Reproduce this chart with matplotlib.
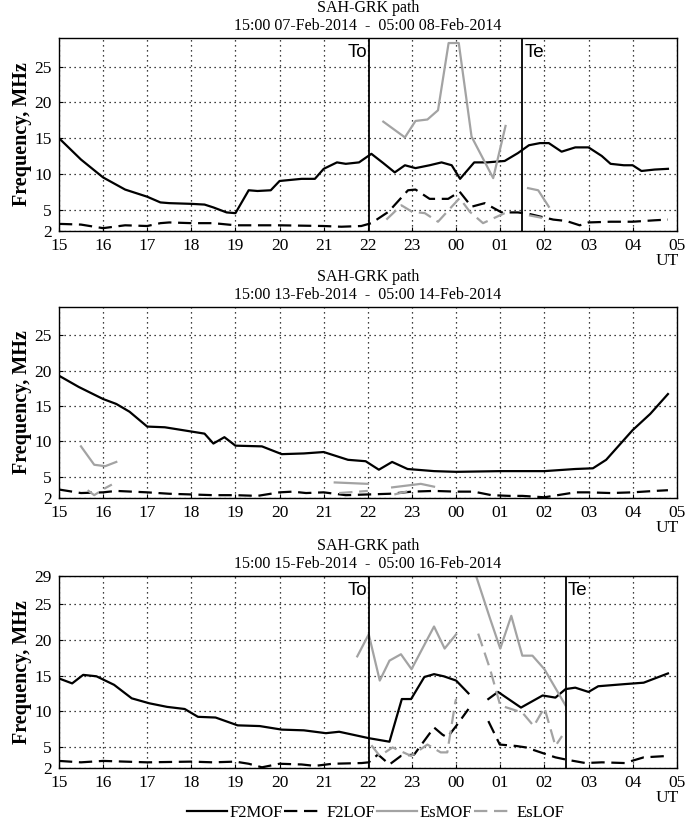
import numpy as np
import matplotlib
matplotlib.use("Agg")
import matplotlib.pyplot as plt

# hours after 00 UT are written as 24+h
hour_labels = ['15', '16', '17', '18', '19', '20', '21', '22', '23',
               '00', '01', '02', '03', '04', '05']
hour_ticks = list(range(15, 30))

titles = ['15:00 07-Feb-2014  -  05:00 08-Feb-2014',
          '15:00 13-Feb-2014  -  05:00 14-Feb-2014',
          '15:00 15-Feb-2014  -  05:00 16-Feb-2014']

# ---- panel 1 : 07/08 Feb ----
p1_f2mof_t = [15.0, 15.5, 16.0, 16.5, 17.0, 17.3, 17.5, 18.0, 18.3, 18.5, 18.8, 19.0, 19.3, 19.5,
              19.8, 20.0, 20.5, 20.8, 21.0, 21.3, 21.5, 21.8, 22.08, 22.35, 22.61, 22.84, 23.08,
              23.4, 23.67, 23.9, 24.09, 24.41, 24.7, 25.1, 25.4, 25.65, 25.9, 26.1, 26.39, 26.7,
              27.0, 27.3, 27.5, 27.8, 28.0, 28.2, 28.5, 28.8]
p1_f2mof = [15.0, 12.0, 9.5, 7.8, 6.8, 6.0, 5.9, 5.8, 5.7, 5.3, 4.6, 4.5, 7.7, 7.6,
            7.7, 9.0, 9.3, 9.3, 10.7, 11.6, 11.4, 11.6, 12.8, 11.5, 10.2, 11.2, 10.8,
            11.2, 11.6, 11.2, 9.3, 11.6, 11.6, 11.8, 12.9, 14.0, 14.3, 14.3, 13.1, 13.7,
            13.7, 12.5, 11.4, 11.2, 11.2, 10.4, 10.6, 10.7]
p1_f2lof_t = [15.0, 15.5, 16.0, 16.5, 17.0, 17.3, 17.5, 18.0, 18.5, 19.0, 19.5, 20.0, 21.0,
              21.4, 21.85, 22.08, 22.47, 22.91, 23.08, 23.4, 23.82, 24.08, 24.35, 24.65,
              25.03, 25.4, 25.65, 26.2, 26.5, 26.8, 27.0, 27.5, 28.0, 28.5, 28.8]
p1_f2lof = [3.0, 2.9, 2.4, 2.8, 2.7, 3.1, 3.2, 3.1, 3.1, 2.8, 2.8, 2.8, 2.7,
            2.6, 2.7, 3.1, 4.7, 7.7, 7.8, 6.5, 6.5, 7.5, 5.4, 5.9,
            4.6, 4.6, 4.4, 3.6, 3.4, 2.8, 3.2, 3.3, 3.3, 3.5, 3.6]
p1_esmof_t = [[22.35, 22.84, 23.08, 23.35, 23.59, 23.83, 24.06, 24.35, 24.84, 25.12],
              [25.63, 25.86, 26.1]]
p1_esmof = [[17.3, 15.1, 17.4, 17.6, 18.9, 28.3, 28.3, 15.2, 9.4, 16.7],
            [8.0, 7.7, 5.4]]
p1_eslof_t = [[22.42, 22.76, 23.0, 23.29, 23.59, 23.9, 24.08, 24.31, 24.61, 25.1],
              [25.65, 25.9, 26.1]]
p1_eslof = [[3.6, 5.6, 4.7, 4.5, 3.3, 5.4, 6.6, 4.7, 3.1, 4.5],
            [4.2, 3.9, 3.6]]

# ---- panel 2 : 13/14 Feb ----
p2_f2mof_t = [15.0, 15.45, 16.0, 16.3, 16.6, 17.0, 17.4, 18.0, 18.3, 18.5, 18.75, 19.0, 19.6,
              20.05, 20.55, 21.0, 21.55, 21.95, 22.25, 22.55, 22.9, 23.5, 24.0, 25.0, 26.0,
              26.7, 27.1, 27.4, 28.0, 28.4, 28.8]
p2_f2mof = [19.3, 17.7, 16.0, 15.3, 14.2, 12.1, 12.0, 11.4, 11.1, 9.7, 10.6, 9.4, 9.3,
            8.2, 8.3, 8.5, 7.4, 7.2, 6.0, 7.1, 6.1, 5.8, 5.7, 5.8, 5.8,
            6.1, 6.2, 7.4, 11.6, 13.9, 16.7]
p2_f2lof_t = [15.0, 15.5, 16.0, 16.3, 17.0, 17.5, 18.0, 18.5, 19.0, 19.5, 20.0, 20.3, 20.6,
              21.0, 21.5, 22.0, 22.5, 23.0, 23.5, 24.0, 24.4, 24.8, 25.2, 25.5, 26.0, 26.3,
              26.7, 27.0, 27.5, 28.0, 28.5, 28.8]
p2_f2lof = [3.2, 2.7, 2.8, 3.0, 2.8, 2.6, 2.5, 2.4, 2.4, 2.3, 2.8, 2.9, 2.7,
            2.8, 2.4, 2.5, 2.6, 2.9, 3.0, 2.9, 2.9, 2.4, 2.3, 2.3, 2.1, 2.4,
            2.8, 2.8, 2.7, 2.8, 3.0, 3.1]
p2_esmof_t = [[15.5, 15.8, 16.05, 16.3], [21.25, 22.0], [22.55, 23.2, 23.5]]
p2_esmof = [[9.3, 6.7, 6.5, 7.1], [4.2, 4.0], [3.5, 4.0, 3.6]]
p2_eslof_t = [[15.65, 15.8, 16.05, 16.2], [21.35, 22.0], [22.6, 23.0]]
p2_eslof = [[3.1, 2.4, 3.4, 3.9], [2.7, 3.0], [2.5, 3.1]]

# ---- panel 3 : 15/16 Feb ----
p3_f2mof_t = [[15.0, 15.3, 15.55, 15.85, 16.25, 16.65, 17.05, 17.45, 17.85, 18.15, 18.55, 19.05,
               19.55, 20.05, 20.55, 21.05, 21.35, 21.65, 22.02, 22.49, 22.77, 22.98, 23.28, 23.5,
               23.72, 24.0, 24.28],
              [24.73, 24.95, 25.47, 25.96, 26.25, 26.48, 26.7, 27.0, 27.22, 27.82, 28.25, 28.8]]
p3_f2mof = [[14.6, 13.9, 15.1, 14.9, 13.7, 11.8, 11.1, 10.6, 10.3, 9.2, 9.1, 8.0,
             7.9, 7.4, 7.3, 6.9, 7.1, 6.7, 6.2, 5.7, 11.7, 11.7, 14.8, 15.2,
             14.9, 14.3, 12.5],
            [11.7, 12.7, 10.5, 12.2, 11.9, 13.1, 13.3, 12.7, 13.5, 13.8, 14.0, 15.3]]
p3_f2lof_t = [[15.0, 15.5, 16.0, 17.0, 18.0, 18.5, 19.0, 19.3, 19.6, 20.0, 20.5, 20.8, 21.2,
               21.86, 22.02, 22.23, 22.49, 22.75, 23.05, 23.5, 23.69, 23.8, 24.0, 24.28],
              [24.73, 24.99, 25.36, 25.58, 26.25, 26.48, 26.93, 27.3, 27.82, 28.25, 28.8]]
p3_f2lof = [[3.0, 2.8, 3.0, 2.8, 2.9, 2.8, 2.9, 2.6, 2.1, 2.6, 2.5, 2.3, 2.6,
             2.7, 2.8, 3.9, 2.5, 3.7, 3.9, 7.7, 6.7, 6.3, 7.9, 10.3],
            [8.6, 5.3, 5.1, 4.9, 3.5, 3.2, 2.7, 2.8, 2.7, 3.5, 3.7]]
p3_esmof_t = [[21.76, 22.02, 22.27, 22.49, 22.75, 22.99, 23.5, 23.74, 24.0],
              [24.4, 24.77, 25.0, 25.25, 25.5, 25.73, 26.0, 26.48]]
p3_esmof = [[17.7, 20.8, 14.3, 17.1, 18.0, 15.9, 21.9, 18.8, 20.8],
            [30.0, 23.0, 18.8, 23.4, 17.8, 17.8, 15.9, 10.8]]
p3_eslof_t = [[22.08, 22.27, 22.56, 22.98, 23.35, 23.65, 23.8, 23.98, 24.0],
              [24.5, 24.77, 25.0, 25.5, 25.76, 26.0, 26.25, 26.4]]
p3_eslof = [[5.2, 3.7, 4.9, 3.7, 5.3, 4.2, 4.2, 11.2, 11.7],
            [20.9, 15.9, 10.8, 9.8, 7.9, 10.5, 5.1, 6.5]]

markers = [(22.02, 25.5), None, (22.02, 26.48)]

BLACK = 'black'
GRAY = '#a3a3a3'
SERIF = 'Liberation Serif'

fig = plt.figure(figsize=(6.85, 8.23), dpi=100)
rects = [[0.086, 0.7193, 0.902, 0.2345],
         [0.086, 0.3949, 0.902, 0.2320],
         [0.086, 0.0668, 0.902, 0.2333]]


def as_segments(t, v):
    if np.ndim(t[0]) == 0:
        return [(t, v)]
    return list(zip(t, v))


panels = [
    (p1_f2mof_t, p1_f2mof, p1_f2lof_t, p1_f2lof, p1_esmof_t, p1_esmof, p1_eslof_t, p1_eslof),
    (p2_f2mof_t, p2_f2mof, p2_f2lof_t, p2_f2lof, p2_esmof_t, p2_esmof, p2_eslof_t, p2_eslof),
    (p3_f2mof_t, p3_f2mof, p3_f2lof_t, p3_f2lof, p3_esmof_t, p3_esmof, p3_eslof_t, p3_eslof),
]

handles = None
for i, (rect, data) in enumerate(zip(rects, panels)):
    ax = fig.add_axes(rect)
    f2m_t, f2m, f2l_t, f2l, esm_t, esm, esl_t, esl = data

    h = {}
    for t, v in as_segments(f2m_t, f2m):
        h['F2MOF'], = ax.plot(t, v, color=BLACK, lw=1.6, ls='-')
    for t, v in as_segments(f2l_t, f2l):
        h['F2LOF'], = ax.plot(t, v, color=BLACK, lw=1.6, ls=(0, (6, 3)))
    for t, v in as_segments(esm_t, esm):
        h['EsMOF'], = ax.plot(t, v, color=GRAY, lw=1.6, ls='-')
    for t, v in as_segments(esl_t, esl):
        h['EsLOF'], = ax.plot(t, v, color=GRAY, lw=1.6, ls=(0, (6, 3)))
    handles = h

    if markers[i] is not None:
        for x in markers[i]:
            ax.axvline(x, color=BLACK, lw=1.3)
        ax.text(markers[i][0] - 0.04, 27.0, 'To', ha='right', va='center',
                fontsize=13.5, family='Liberation Sans')
        ax.text(markers[i][1] + 0.05, 27.0, 'Te', ha='left', va='center',
                fontsize=13.5, family='Liberation Sans')

    ax.set_xlim(15, 29)
    ax.set_ylim(2, 29)
    ax.set_xticks(hour_ticks)
    ax.set_xticklabels(hour_labels)
    yt = [2, 5, 10, 15, 20, 25] + ([29] if i == 2 else [])
    ax.set_yticks(yt)
    ax.set_yticklabels([str(v) for v in yt])
    ax.grid(True, color='black', ls=(0, (1, 3)), lw=0.9)
    ax.tick_params(direction='in', length=3, labelsize=12.5, pad=5)
    for lab in ax.get_xticklabels() + ax.get_yticklabels():
        lab.set_family(SERIF)
    for sp in ax.spines.values():
        sp.set_linewidth(1.0)

    ax.set_ylabel('Frequency, MHz', fontsize=14.5, fontweight='bold', family=SERIF, labelpad=2)
    ax.set_title('SAH-GRK path\n' + titles[i], fontsize=11.5, family=SERIF, pad=6,
                 linespacing=1.15)
    ax.text(0.985, -0.155, 'UT', transform=ax.transAxes, ha='center', va='center',
            fontsize=12.5, family=SERIF)

fig.legend([handles[k] for k in ['F2MOF', 'F2LOF', 'EsMOF', 'EsLOF']],
           ['F2MOF', 'F2LOF', 'EsMOF', 'EsLOF'],
           loc='center', bbox_to_anchor=(0.548, 0.012), ncol=4, frameon=False,
           handlelength=2.4, handletextpad=0.15, columnspacing=0.1,
           prop={'family': SERIF, 'size': 12})

fig.savefig('out.png', dpi=100)
